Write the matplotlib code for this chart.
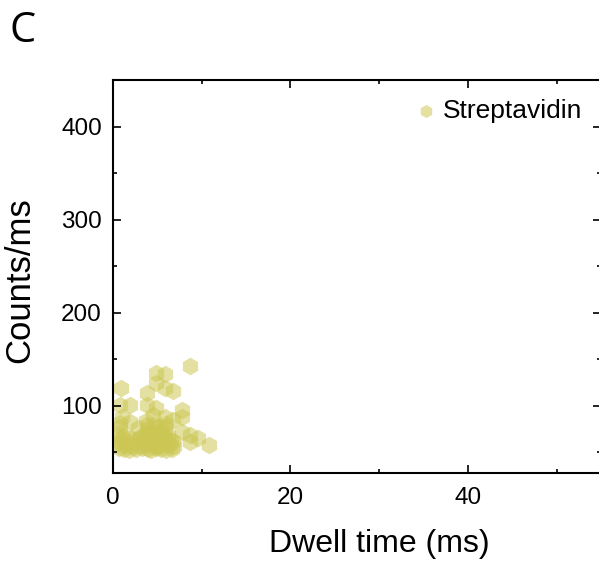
import matplotlib.pyplot as plt
from matplotlib.ticker import MultipleLocator

# Streptavidin events: dwell time (ms) vs counts/ms
dwell = [8.7, 4.8, 5.9, 4.8, 5.9, 6.8, 0.9, 3.8, 0.8, 1.9,
         3.8, 4.9, 7.8, 5.9, 7.8, 1.0, 4.5, 1.9, 6.8, 3.8,
         0.8, 2.8, 5.9, 7.8, 8.7, 9.6, 10.8, 8.7, 0.7, 1.2,
         1.8, 2.6, 3.3, 3.9, 4.3, 4.9, 5.4, 6.0, 6.6, 0.6,
         1.0, 1.5, 2.2, 2.9, 3.6, 4.1, 4.6, 5.1, 5.6, 6.3,
         6.9, 0.9, 1.4, 2.4, 3.1, 3.8, 4.4, 5.0, 5.8, 6.5,
         0.7, 1.1, 3.5, 4.0, 4.7, 5.3, 5.9, 6.2, 3.9, 4.8,
         2.0, 3.0, 4.2, 5.5, 6.8, 0.8, 3.7, 4.6, 5.2, 6.0]
counts = [143, 135, 134, 125, 119, 116, 119, 114, 101, 101,
          101, 98, 96, 88, 88, 88, 90, 83, 85, 80,
          77, 76, 77, 72, 69, 66, 58, 61, 55, 54,
          53, 54, 55, 54, 53, 55, 54, 53, 54, 60,
          59, 58, 57, 58, 59, 60, 58, 57, 59, 58,
          57, 64, 63, 62, 64, 63, 65, 62, 64, 63,
          70, 68, 69, 71, 68, 70, 67, 69, 75, 74,
          66, 67, 72, 73, 62, 82, 84, 80, 78, 81]

plt.rcParams['font.family'] = ['Liberation Sans', 'DejaVu Sans']

fig = plt.figure(figsize=(5.99, 5.61), dpi=100)
ax = fig.add_axes([0.1886, 0.157, 0.815, 0.700])

ax.scatter(dwell, counts, s=160, marker='h', color=(0.80, 0.78, 0.33),
           alpha=0.55, linewidths=0, label='Streptavidin')

ax.set_xlim(0, 55)
ax.set_ylim(28, 450)
ax.xaxis.set_major_locator(MultipleLocator(20))
ax.xaxis.set_minor_locator(MultipleLocator(10))
ax.yaxis.set_major_locator(MultipleLocator(100))
ax.yaxis.set_minor_locator(MultipleLocator(50))
ax.tick_params(which='both', direction='in', top=True, right=True, width=1.2)
ax.tick_params(which='major', length=6, labelsize=17.5)
ax.tick_params(axis='x', which='major', pad=10)
ax.tick_params(axis='y', which='major', pad=8)
ax.tick_params(which='minor', length=3)
for sp in ax.spines.values():
    sp.set_linewidth(1.5)

ax.set_xlabel('Dwell time (ms)', fontsize=23)
ax.set_ylabel('Counts/ms', fontsize=25)
ax.xaxis.set_label_coords(0.546, -0.143)
ax.yaxis.set_label_coords(-0.158, 0.49)

ax.legend(loc='upper right', frameon=False, fontsize=19, handletextpad=0.15,
          handlelength=1.0, borderaxespad=0.3, markerscale=0.75)

fig.text(0.016, 0.925, 'C', fontsize=30, family='Open Sans')

fig.savefig('out.png', dpi=100)
